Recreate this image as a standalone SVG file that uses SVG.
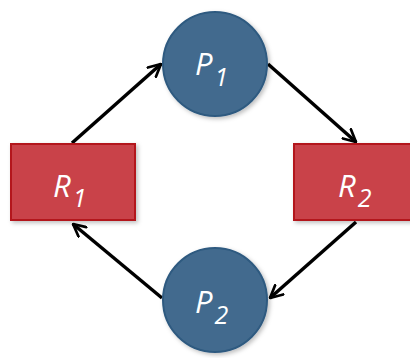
<svg xmlns="http://www.w3.org/2000/svg" width="410" height="358" viewBox="0 0 410 358">
<defs>
<style>
.proc{fill:#426b8e;stroke:#2f5a80;stroke-width:2}
.res{fill:#c9434a;stroke:#b3151b;stroke-width:2}
.lbl{font-family:"Open Sans","Liberation Sans",sans-serif;font-style:italic;fill:#ffffff;font-size:31px}
.sub{font-size:25px}
.edge{stroke:#000;stroke-width:3.5;fill:none;marker-end:url(#arr)}
</style>
<marker id="arr" viewBox="0 0 12 12" refX="11" refY="6" markerWidth="4.2" markerHeight="4.2" orient="auto">
<path d="M1,1 L11,6 L1,11" fill="none" stroke="#000" stroke-width="2.2" stroke-linecap="round" stroke-linejoin="round"/>
</marker>
<filter id="sh" x="-20%" y="-20%" width="140%" height="140%">
<feDropShadow dx="2" dy="2" stdDeviation="2" flood-color="#000" flood-opacity="0.25"/>
</filter>
</defs>
<g id="connectors">
<line class="edge" x1="72" y1="143" x2="161" y2="64"/>
<line class="edge" x1="268" y1="64" x2="356" y2="142"/>
<line class="edge" x1="356" y1="222" x2="270" y2="298"/>
<line class="edge" x1="162" y1="298" x2="73" y2="224"/>
</g>
<g id="P1">
<circle class="proc" cx="215" cy="64" r="52" filter="url(#sh)"/>
<text class="lbl" x="195" y="75">P<tspan class="sub" dx="2" dy="11">1</tspan></text>
</g>
<g id="R1">
<rect class="res" x="11" y="144" width="124" height="76" filter="url(#sh)"/>
<text class="lbl" x="53" y="197">R<tspan class="sub" dx="2" dy="10">1</tspan></text>
</g>
<g id="R2">
<rect class="res" x="294" y="144" width="124" height="76" filter="url(#sh)"/>
<text class="lbl" x="338" y="197">R<tspan class="sub" dx="2" dy="10">2</tspan></text>
</g>
<g id="P2">
<circle class="proc" cx="215" cy="300" r="52" filter="url(#sh)"/>
<text class="lbl" x="195" y="313">P<tspan class="sub" dx="2" dy="11">2</tspan></text>
</g>
</svg>
